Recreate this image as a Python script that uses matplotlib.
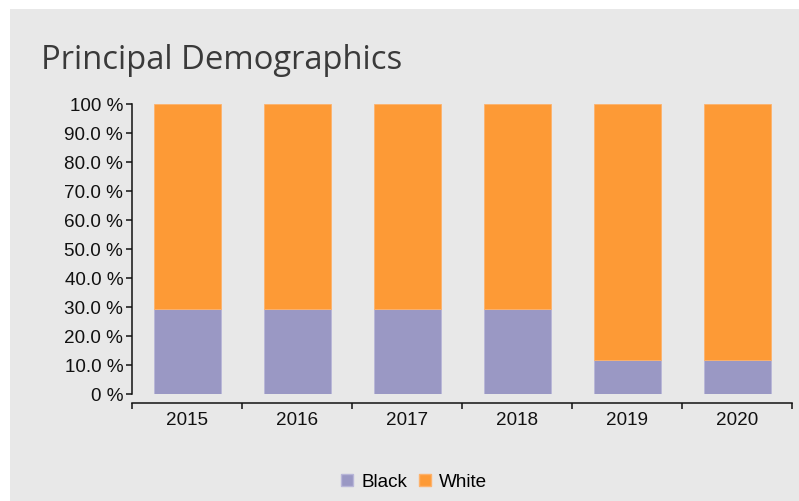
import matplotlib
matplotlib.use("Agg")
import matplotlib.pyplot as plt
from matplotlib.patches import Rectangle, Patch

years = ["2015", "2016", "2017", "2018", "2019", "2020"]
black = [29.3, 29.3, 29.3, 29.3, 11.6, 11.6]
white = [100 - b for b in black]
y_ticks = list(range(0, 101, 10))
y_labels = ["0 %"] + [f"{v:.1f} %" for v in y_ticks[1:-1]] + ["100 %"]

C_BLACK = "#9a98c4"
C_WHITE = "#fd9a36"
BG = "#e8e8e8"
FS = 13.6

W, H = 799, 502
fig = plt.figure(figsize=(W / 100, H / 100), dpi=100)
fig.patch.set_facecolor("white")
fig.patches.append(Rectangle((10 / W, 0), 1 - 10 / W, 1 - 10 / H,
                             transform=fig.transFigure, facecolor=BG,
                             edgecolor="none", zorder=-5))

fig.text(41 / W, 1 - 69 / H, "Principal Demographics", family="Open Sans",
         fontsize=23.6, color="#3a3a3a", va="baseline", ha="left")

left, right = 132 / W, 792 / W
bottom, top = 1 - 394.5 / H, 1 - 104.5 / H
ax = fig.add_axes([left, bottom, right - left, top - bottom])
ax.set_facecolor("none")

x = [i + 0.5 for i in range(len(years))]
bw = 67 / 110
ax.bar(x, black, width=bw, color=C_BLACK, edgecolor="#b8b6d8", linewidth=0.6)
ax.bar(x, white, width=bw, bottom=black, color=C_WHITE, edgecolor="#fdb26c",
       linewidth=0.6)

ax.set_xlim(0, len(years))
ax.set_ylim(0, 100)

for s in ("top", "right"):
    ax.spines[s].set_visible(False)
ax.spines["left"].set_bounds(0, 100)
ax.spines["bottom"].set_position(("outward", 6.5))
for s in ("left", "bottom"):
    ax.spines[s].set_linewidth(1.1)
    ax.spines[s].set_color("#111111")

ax.set_yticks(y_ticks)
ax.set_yticklabels(y_labels)
ax.tick_params(axis="y", length=4.3, width=1.1, color="#111111",
               labelsize=FS, labelcolor="#111111", pad=2)

ax.set_xticks(range(len(years) + 1))
ax.set_xticklabels([])
ax.tick_params(axis="x", which="major", length=4.3, width=1.1, color="#111111")
ax.set_xticks(x, minor=True)
ax.set_xticklabels(years, minor=True)
ax.tick_params(axis="x", which="minor", length=0, labelsize=FS,
               labelcolor="#111111", pad=6)

for lbl in ax.get_yticklabels() + ax.get_xticklabels(minor=True):
    lbl.set_family("Liberation Sans")

handles = [Patch(facecolor=C_BLACK, edgecolor="#b8b6d8", label="Black"),
           Patch(facecolor=C_WHITE, edgecolor="#fdb26c", label="White")]
leg = fig.legend(handles=handles, loc="center", ncol=2,
                 bbox_to_anchor=(414 / W, 1 - 483 / H), frameon=False,
                 prop={"family": "Liberation Sans", "size": FS},
                 handlelength=0.65, handleheight=0.65, handletextpad=0.45,
                 columnspacing=0.6)

fig.savefig("out.png", dpi=100)
